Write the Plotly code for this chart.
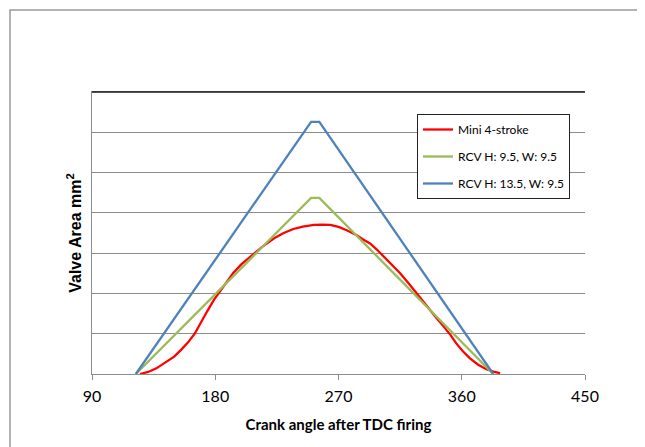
import plotly.graph_objects as go

# Crank angle (deg) and valve area readings
mini_angle = [125, 131, 137, 143, 150, 155, 160, 165, 169, 174, 179, 186, 193, 199, 206, 214, 223, 230, 237, 244, 252, 258, 264, 270, 276, 283, 288, 293, 298, 303, 309, 315, 321, 327, 332, 337, 342, 347, 352, 356, 361, 366, 372, 378, 383, 388]
mini_area = [0, 0.5, 1.4, 2.7, 4.3, 6.0, 7.8, 10.0, 12.6, 15.5, 18.4, 21.8, 25.0, 27.2, 29.1, 31.5, 33.7, 35.0, 36.0, 36.6, 37.0, 37.1, 37.0, 36.5, 35.7, 34.5, 33.4, 32.4, 30.9, 29.1, 27.2, 25.0, 22.6, 20.0, 17.9, 15.9, 13.7, 11.7, 9.6, 7.6, 5.6, 3.9, 2.3, 1.2, 0.6, 0.2]

rcv1_angle = [122, 250, 256, 383]
rcv1_area = [0, 43.7, 43.7, 0]

rcv2_angle = [122, 250, 256, 383]
rcv2_area = [0, 62.6, 62.6, 0]

x_ticks = [90, 180, 270, 360, 450]

fig = go.Figure()
fig.add_trace(go.Scatter(x=mini_angle, y=mini_area, mode="lines", name="Mini 4-stroke",
                         line=dict(color="#FF0000", width=2.3), legendgroup="a"))
fig.add_trace(go.Scatter(x=rcv1_angle, y=rcv1_area, mode="lines", name="RCV H: 9.5, W: 9.5",
                         line=dict(color="#9BBB59", width=2.3), legendgroup="b"))
fig.add_trace(go.Scatter(x=rcv2_angle, y=rcv2_area, mode="lines", name="RCV H: 13.5, W: 9.5",
                         line=dict(color="#4F81BD", width=2.3), legendgroup="c"))

grid = "#8C8C8C"
L, R, T, B = 84, 60, 84, 73
W, H = 637, 439
pw, ph = W - L - R, H - T - B

fig.update_layout(
    width=W, height=H,
    margin=dict(l=L, r=R, t=T, b=B),
    paper_bgcolor="white", plot_bgcolor="white",
    font=dict(family="Lato, 'Open Sans', Arial", color="#000000"),
    showlegend=True,
    legend=dict(x=(417 - 92) / pw, y=1 - (114 - 92) / ph, xanchor="left", yanchor="top",
                bgcolor="white", bordercolor="#222222", borderwidth=1,
                font=dict(size=12, family="Lato, 'Open Sans', Arial"),
                tracegroupgap=8, itemwidth=30),
    xaxis=dict(range=[90, 450], tickvals=x_ticks, ticktext=[str(v) for v in x_ticks],
               showgrid=False, zeroline=False, showline=True, linecolor=grid, linewidth=1,
               mirror=True, ticks="outside", ticklen=5, tickcolor=grid,
               ticklabelstandoff=3,
               tickfont=dict(size=16, family="Lato, 'Open Sans', Arial"),
               title=dict(text="<b>Crank angle after TDC firing</b>", standoff=15,
                          font=dict(size=15, family="Lato, 'Open Sans', Arial"))),
    yaxis=dict(range=[0, 70], dtick=10, showticklabels=False, showgrid=True,
               gridcolor=grid, gridwidth=1, zeroline=False, showline=True,
               linecolor=grid, linewidth=1,
               title=dict(text="<b>Valve Area mm<sup>2</sup></b>", standoff=5,
                          font=dict(size=16, family="Liberation Sans, Arial"))),
)

# top border of plot area (dark)
fig.add_shape(type="line", xref="paper", yref="paper", x0=0, x1=1, y0=1, y1=1,
              line=dict(color="#1A1A1A", width=1.5))
# outer frame of chart area
fig.add_shape(type="rect", xref="paper", yref="paper",
              x0=(10 - 92) / pw, x1=1.5, y0=-0.6, y1=1 + (92 - 10) / ph,
              line=dict(color="#9A9A9A", width=1.5), layer="below")

fig.write_html("out.html")
